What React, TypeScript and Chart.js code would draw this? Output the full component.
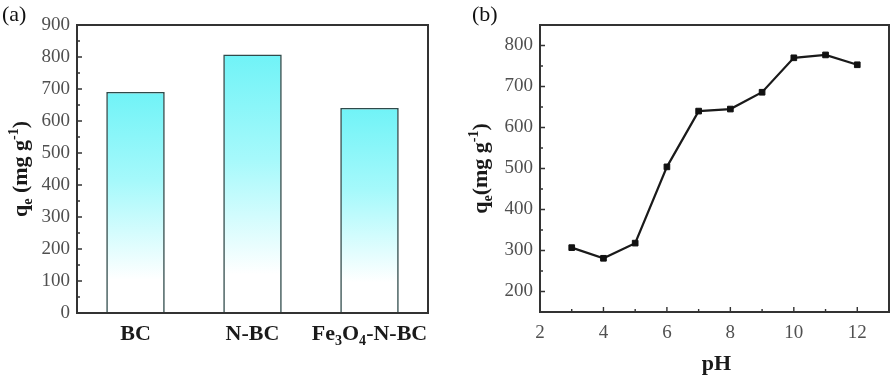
import { useEffect, useRef } from 'react';
import { Chart, registerables } from 'chart.js';

Chart.register(...registerables);

// ---------- data ----------
const materials = ['BC', 'N-BC', 'Fe3O4-N-BC'];
const capacity = [691, 808, 641];

const pHValues = [3, 4, 5, 6, 7, 8, 9, 10, 11, 12];
const qeByPH = [307, 281, 318, 504, 640, 645, 686, 770, 777, 753];

const leftYTicks = [0, 100, 200, 300, 400, 500, 600, 700, 800, 900];
const rightYTicks = [200, 300, 400, 500, 600, 700, 800];
const rightXTicks = [2, 4, 6, 8, 10, 12];

// ---------- helpers ----------
type Seg = { t: string; sub?: boolean; sup?: boolean };
const SERIF = "'Liberation Serif', 'Times New Roman', serif";

const materialSegs: Seg[][] = [
  [{ t: 'BC' }],
  [{ t: 'N-BC' }],
  [{ t: 'Fe' }, { t: '3', sub: true }, { t: 'O' }, { t: '4', sub: true }, { t: '-N-BC' }],
];

function drawRich(
  ctx: CanvasRenderingContext2D,
  segs: Seg[],
  x: number,
  y: number,
  size: number,
  weight: string,
  color: string,
  align: 'center' | 'left' = 'center'
) {
  const small = size * 0.64;
  const fontFor = (s: Seg) => `${weight} ${s.sub || s.sup ? small : size}px ${SERIF}`;
  let total = 0;
  for (const s of segs) {
    ctx.font = fontFor(s);
    total += ctx.measureText(s.t).width;
  }
  let cx = align === 'center' ? x - total / 2 : x;
  ctx.textBaseline = 'alphabetic';
  ctx.textAlign = 'left';
  ctx.fillStyle = color;
  for (const s of segs) {
    ctx.font = fontFor(s);
    const dy = s.sub ? size * 0.24 : s.sup ? -size * 0.42 : 0;
    ctx.fillText(s.t, cx, y + dy);
    cx += ctx.measureText(s.t).width;
  }
}

function minorBetween(min: number, max: number, step: number, majors: number[]) {
  const out: number[] = [];
  for (let v = min; v <= max + 1e-9; v += step) {
    if (!majors.includes(v)) out.push(v);
  }
  return out;
}

type DecoCfg = {
  yMajor: number[];
  yMinor: number[];
  xMajor?: number[];
  xMinor?: number[];
  text: (chart: Chart, ctx: CanvasRenderingContext2D) => void;
};

function makeDeco(cfg: DecoCfg) {
  return {
    id: 'deco',
    afterDraw(chart: Chart) {
      const { ctx, chartArea: a } = chart;
      const ys = chart.scales.y;
      const xs = chart.scales.x;
      ctx.save();
      ctx.strokeStyle = '#333333';
      ctx.lineWidth = 1.4;
      ctx.beginPath();
      for (const v of cfg.yMajor) {
        const p = ys.getPixelForValue(v);
        ctx.moveTo(a.left, p);
        ctx.lineTo(a.left + 5, p);
      }
      for (const v of cfg.yMinor) {
        const p = ys.getPixelForValue(v);
        ctx.moveTo(a.left, p);
        ctx.lineTo(a.left + 3, p);
      }
      for (const v of cfg.xMajor || []) {
        const p = xs.getPixelForValue(v);
        ctx.moveTo(p, a.bottom);
        ctx.lineTo(p, a.bottom - 5);
      }
      for (const v of cfg.xMinor || []) {
        const p = xs.getPixelForValue(v);
        ctx.moveTo(p, a.bottom);
        ctx.lineTo(p, a.bottom - 3);
      }
      ctx.stroke();
      ctx.lineWidth = 2;
      ctx.strokeRect(a.left, a.top, a.right - a.left, a.bottom - a.top);
      cfg.text(chart, ctx);
      ctx.restore();
    },
  };
}

const tickFont = { family: SERIF, size: 19 };
const tickColor = '#505050';

// ---------- charts ----------
function BarPanel() {
  const ref = useRef<HTMLCanvasElement>(null);
  useEffect(() => {
    const canvas = ref.current!;
    const deco = makeDeco({
      yMajor: leftYTicks,
      yMinor: minorBetween(0, 900, 50, leftYTicks),
      text: (chart, ctx) => {
        const xs = chart.scales.x;
        materialSegs.forEach((segs, i) => {
          drawRich(ctx, segs, xs.getPixelForValue(i), 340, 22, 'bold', '#1a1a1a');
        });
        drawRich(ctx, [{ t: '(a)' }], 2, 21, 22, 'normal', '#111', 'left');
        ctx.save();
        ctx.translate(27, (chart.chartArea.top + chart.chartArea.bottom) / 2);
        ctx.rotate(-Math.PI / 2);
        drawRich(
          ctx,
          [{ t: 'q' }, { t: 'e', sub: true }, { t: ' (mg g' }, { t: '-1', sup: true }, { t: ')' }],
          0,
          0,
          22,
          'bold',
          '#1a1a1a'
        );
        ctx.restore();
      },
    });
    const chart = new Chart(canvas, {
      type: 'bar',
      data: {
        labels: materials,
        datasets: [
          {
            data: capacity,
            barPercentage: 0.5,
            categoryPercentage: 1,
            borderColor: '#2f4a4a',
            borderWidth: 1.6,
            borderSkipped: 'bottom',
            backgroundColor: (c: any) => {
              const ch = c.chart;
              const y = ch.scales?.y;
              if (!y || c.raw == null) return 'rgb(118,244,248)';
              const top = y.getPixelForValue(c.raw);
              const bot = y.getPixelForValue(0);
              if (!Number.isFinite(top) || !Number.isFinite(bot) || top === bot) return 'rgb(118,244,248)';
              const g = ch.ctx.createLinearGradient(0, top, 0, bot);
              g.addColorStop(0, 'rgb(112,243,247)');
              g.addColorStop(0.4, 'rgb(165,249,251)');
              g.addColorStop(0.85, 'rgb(255,255,255)');
              g.addColorStop(1, 'rgb(255,255,255)');
              return g;
            },
          },
        ],
      },
      options: {
        responsive: false,
        animation: false,
        layout: { padding: { left: 0, right: 19, top: 25, bottom: 0 } },
        plugins: { legend: { display: false }, tooltip: { enabled: false } },
        scales: {
          x: {
            type: 'category',
            grid: { display: false, drawTicks: false },
            border: { display: false },
            ticks: { display: false },
            afterFit: (s: any) => {
              s.height = 63;
            },
          },
          y: {
            min: 0,
            max: 900,
            grid: { display: false, drawTicks: false },
            border: { display: false },
            ticks: { font: tickFont, color: tickColor, padding: 7 },
            afterBuildTicks: (s: any) => {
              s.ticks = leftYTicks.map((v) => ({ value: v }));
            },
            afterFit: (s: any) => {
              s.width = 77;
            },
          },
        },
      },
      plugins: [deco],
    });
    return () => chart.destroy();
  }, []);
  return (
    <canvas
      ref={ref}
      width={447}
      height={376}
      style={{ position: 'absolute', left: 0, top: 0, width: 447, height: 376 }}
    />
  );
}

function LinePanel() {
  const ref = useRef<HTMLCanvasElement>(null);
  useEffect(() => {
    const canvas = ref.current!;
    const deco = makeDeco({
      yMajor: rightYTicks,
      yMinor: minorBetween(150, 850, 50, rightYTicks),
      xMajor: rightXTicks,
      xMinor: minorBetween(2, 13, 1, rightXTicks),
      text: (chart, ctx) => {
        const a = chart.chartArea;
        const xs = chart.scales.x;
        ctx.font = `${tickFont.size}px ${SERIF}`;
        ctx.fillStyle = tickColor;
        ctx.textAlign = 'center';
        ctx.textBaseline = 'middle';
        for (const v of rightXTicks) {
          ctx.fillText(String(v), xs.getPixelForValue(v), a.bottom + 21);
        }
        drawRich(ctx, [{ t: 'pH' }], (a.left + a.right) / 2 + 2, 370, 22, 'bold', '#1a1a1a');
        drawRich(ctx, [{ t: '(b)' }], 25, 21, 22, 'normal', '#111', 'left');
        ctx.save();
        ctx.translate(40, (a.top + a.bottom) / 2);
        ctx.rotate(-Math.PI / 2);
        drawRich(
          ctx,
          [{ t: 'q' }, { t: 'e', sub: true }, { t: '(mg g' }, { t: '-1', sup: true }, { t: ')' }],
          0,
          0,
          22,
          'bold',
          '#1a1a1a'
        );
        ctx.restore();
      },
    });
    const chart = new Chart(canvas, {
      type: 'line',
      data: {
        datasets: [
          {
            data: pHValues.map((x, i) => ({ x, y: qeByPH[i] })),
            borderColor: '#1a1a1a',
            borderWidth: 2.2,
            pointStyle: 'rect',
            pointRadius: 4,
            pointBorderWidth: 1,
            pointBackgroundColor: '#111',
            pointBorderColor: '#111',
            tension: 0,
          },
        ],
      },
      options: {
        responsive: false,
        animation: false,
        layout: { padding: { left: 0, right: 3, top: 25, bottom: 0 } },
        plugins: { legend: { display: false }, tooltip: { enabled: false } },
        scales: {
          x: {
            type: 'linear',
            min: 2,
            max: 13,
            grid: { display: false, drawTicks: false },
            border: { display: false },
            ticks: { display: false },
            afterBuildTicks: (s: any) => {
              s.ticks = rightXTicks.map((v) => ({ value: v }));
            },
            afterFit: (s: any) => {
              s.height = 64;
            },
          },
          y: {
            min: 150,
            max: 850,
            grid: { display: false, drawTicks: false },
            border: { display: false },
            ticks: { font: tickFont, color: tickColor, padding: 7 },
            afterBuildTicks: (s: any) => {
              s.ticks = rightYTicks.map((v) => ({ value: v }));
            },
            afterFit: (s: any) => {
              s.width = 93;
            },
          },
        },
      },
      plugins: [deco],
    });
    return () => chart.destroy();
  }, []);
  return (
    <canvas
      ref={ref}
      width={447}
      height={376}
      style={{ position: 'absolute', left: 447, top: 0, width: 447, height: 376 }}
    />
  );
}

export default function App() {
  return (
    <div
      style={{
        position: 'absolute',
        left: 0,
        top: 0,
        width: 894,
        height: 376,
        background: '#ffffff',
        overflow: 'hidden',
      }}
    >
      <BarPanel />
      <LinePanel />
    </div>
  );
}
